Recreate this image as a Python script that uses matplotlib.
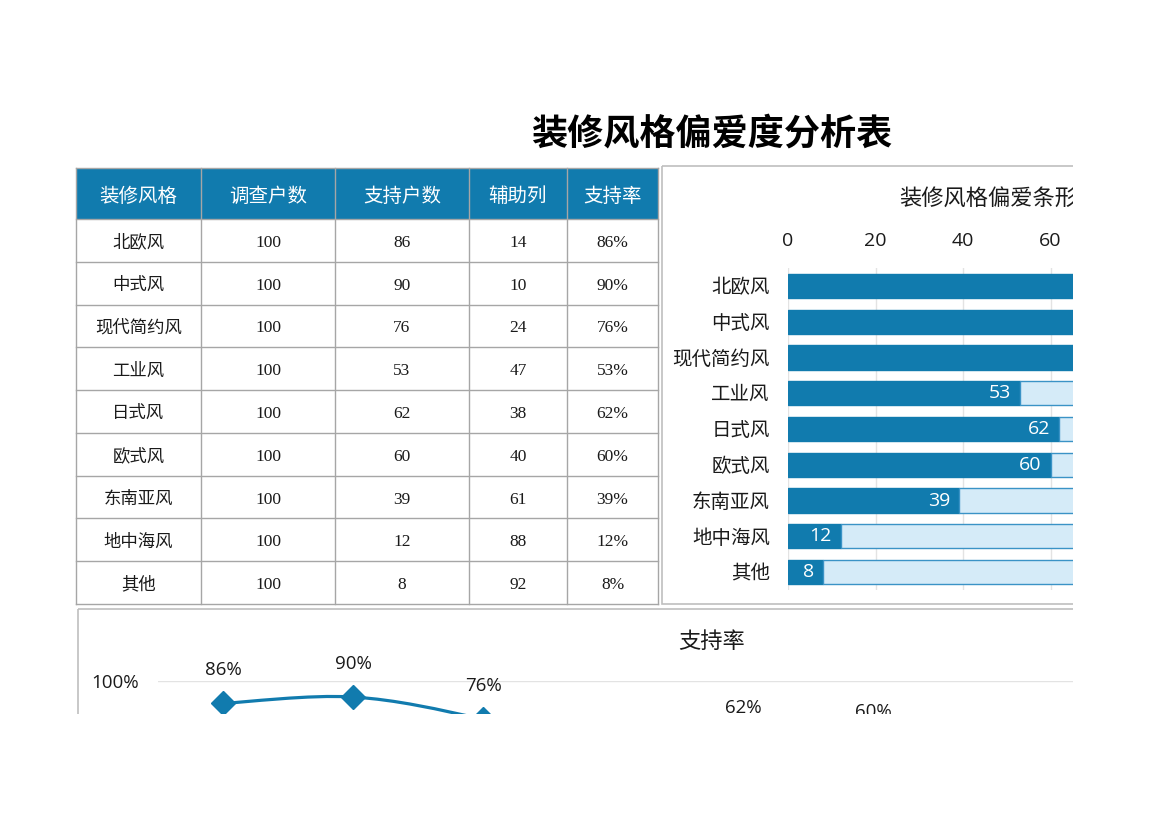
import matplotlib
matplotlib.use('Agg')
import matplotlib.pyplot as plt
from matplotlib.patches import Rectangle, PathPatch
from matplotlib.path import Path

plt.rcParams['font.family'] = ['Open Sans', 'Noto Sans CJK SC', 'DejaVu Sans']

# data
headers = ['装修风格', '调查户数', '支持户数', '辅助列', '支持率']
styles = ['北欧风', '中式风', '现代简约风', '工业风', '日式风', '欧式风', '东南亚风', '地中海风', '其他']
surveyed = [100, 100, 100, 100, 100, 100, 100, 100, 100]
support = [86, 90, 76, 53, 62, 60, 39, 12, 8]
helper = [14, 10, 24, 47, 38, 40, 61, 88, 92]
rate = [0.86, 0.90, 0.76, 0.53, 0.62, 0.60, 0.39, 0.12, 0.08]
bar_ticks = [0, 20, 40, 60]
rate_ticks = [0.5, 1.0]
rate_tick_labels = ['50%', '100%']

DARK = '#117BAE'
LIGHT = '#D5EBF8'
GRID = '#A6A6A6'
W, H = 1170, 827

fig = plt.figure(figsize=(W / 100, H / 100), dpi=100)


def fax(x0, y0, x1, y1):
    # pixel box (top-left origin) -> figure fraction rect
    return [x0 / W, 1 - y1 / H, (x1 - x0) / W, (y1 - y0) / H]


# background canvas in pixel coordinates
bg = fig.add_axes([0, 0, 1, 1])
bg.set_xlim(0, W)
bg.set_ylim(H, 0)
bg.axis('off')

bg.text(712, 134, '装修风格偏爱度分析表', ha='center', va='center',
        fontsize=26, fontweight='bold', family=['Noto Sans CJK SC'])

# table
col_x = [76, 201, 335, 469, 567, 658]
head_top, head_bot = 168, 219
row_h = (604 - head_bot) / len(styles)
serif = ['Liberation Serif', 'Noto Sans CJK SC']

bg.add_patch(Rectangle((col_x[0], head_top), col_x[-1] - col_x[0], head_bot - head_top,
                       facecolor=DARK, edgecolor='none'))
for i, h in enumerate(headers):
    cx = (col_x[i] + col_x[i + 1]) / 2
    bg.text(cx, (head_top + head_bot) / 2 + 2.5, h, ha='center', va='center',
            color='white', fontsize=14, family=['Noto Sans CJK SC'])

for r, name in enumerate(styles):
    y = head_bot + (r + 0.5) * row_h + 2.5
    cells = [name, str(surveyed[r]), str(support[r]), str(helper[r]),
             '%d%%' % round(rate[r] * 100)]
    for i, c in enumerate(cells):
        cx = (col_x[i] + col_x[i + 1]) / 2
        bg.text(cx, y, c, ha='center', va='center', color='#1a1a1a',
                fontsize=12.5, family=serif)

for x in col_x:
    bg.plot([x, x], [head_top, 604], color=GRID, lw=1)
for r in range(len(styles) + 1):
    y = head_bot + r * row_h
    bg.plot([col_x[0], col_x[-1]], [y, y], color=GRID, lw=1)
bg.plot([col_x[0], col_x[-1]], [head_top, head_top], color=GRID, lw=1)

# panel borders
bg.add_patch(Rectangle((662, 166), 800, 438, facecolor='none', edgecolor='#BFBFBF', lw=1.2))
bg.add_patch(Rectangle((78, 609), 1400, 400, facecolor='none', edgecolor='#BFBFBF', lw=1.2))

# bar chart
bg.text(899, 198, '装修风格偏爱条形图', ha='left', va='center', fontsize=16,
        color='#1a1a1a', family=['Noto Sans CJK SC'])

ax = fig.add_axes(fax(788, 268, 1225.5, 590))
ypos = list(range(len(styles)))
ax.barh(ypos, support, height=0.68, color=DARK, edgecolor=DARK, lw=1, zorder=3)
ax.barh(ypos, helper, left=support, height=0.68, color=LIGHT, edgecolor='#3A93C6', lw=1, zorder=3)
for i, v in enumerate(support):
    ax.text(v - 2, i, str(v), ha='right', va='center', color='white', fontsize=14, zorder=4)
ax.set_xlim(0, 100)
ax.set_ylim(len(styles) - 0.5, -0.5)
ax.set_xticks(bar_ticks)
ax.xaxis.tick_top()
ax.set_yticks(ypos)
ax.set_yticklabels(styles)
ax.tick_params(axis='both', length=0, labelsize=14, colors='#1a1a1a')
ax.tick_params(axis='x', pad=13)
ax.tick_params(axis='y', pad=13)
ax.grid(axis='x', color='#E3E3E3', lw=1, zorder=0)
for s in ax.spines.values():
    s.set_visible(False)

# line chart
bg.text(712, 641, '支持率', ha='center', va='center', fontsize=16,
        color='#1a1a1a', family=['Noto Sans CJK SC'])

lx = fig.add_axes(fax(158, 681, 1328, 841))
xs = list(range(len(rate)))
pts = list(zip(xs, rate))
verts = [pts[0]]
codes = [Path.MOVETO]
for i in range(len(pts) - 1):
    p0 = pts[max(i - 1, 0)]
    p1 = pts[i]
    p2 = pts[i + 1]
    p3 = pts[min(i + 2, len(pts) - 1)]
    c1 = (p1[0] + (p2[0] - p0[0]) / 6, p1[1] + (p2[1] - p0[1]) / 6)
    c2 = (p2[0] - (p3[0] - p1[0]) / 6, p2[1] - (p3[1] - p1[1]) / 6)
    verts += [c1, c2, p2]
    codes += [Path.CURVE4] * 3
lx.add_patch(PathPatch(Path(verts, codes), facecolor='none', edgecolor=DARK, lw=2.3, zorder=3))
lx.plot(xs, rate, linestyle='none', marker='D', markersize=12, color=DARK, zorder=4)
for x, v in zip(xs, rate):
    lx.annotate('%d%%' % round(v * 100), (x, v), xytext=(0, 24), textcoords='offset points',
                ha='center', va='center', fontsize=13.5, color='#1a1a1a')
lx.set_xlim(-0.5, len(rate) - 0.5)
lx.set_ylim(0, 1)
lx.set_yticks(rate_ticks)
lx.set_yticklabels(rate_tick_labels)
lx.set_xticks([])
lx.tick_params(axis='both', length=0, labelsize=13.5, colors='#1a1a1a')
lx.tick_params(axis='y', pad=14)
lx.grid(axis='y', color='#E3E3E3', lw=1, zorder=0)
for s in lx.spines.values():
    s.set_visible(False)

# print area cut-off
fig.add_artist(Rectangle((1073 / W, 0), 1, 1, transform=fig.transFigure,
                         facecolor='white', edgecolor='none', zorder=10))
fig.add_artist(Rectangle((0, 0), 1, 1 - 714 / H, transform=fig.transFigure,
                         facecolor='white', edgecolor='none', zorder=10))

fig.savefig('out.png', dpi=100, facecolor='white')
